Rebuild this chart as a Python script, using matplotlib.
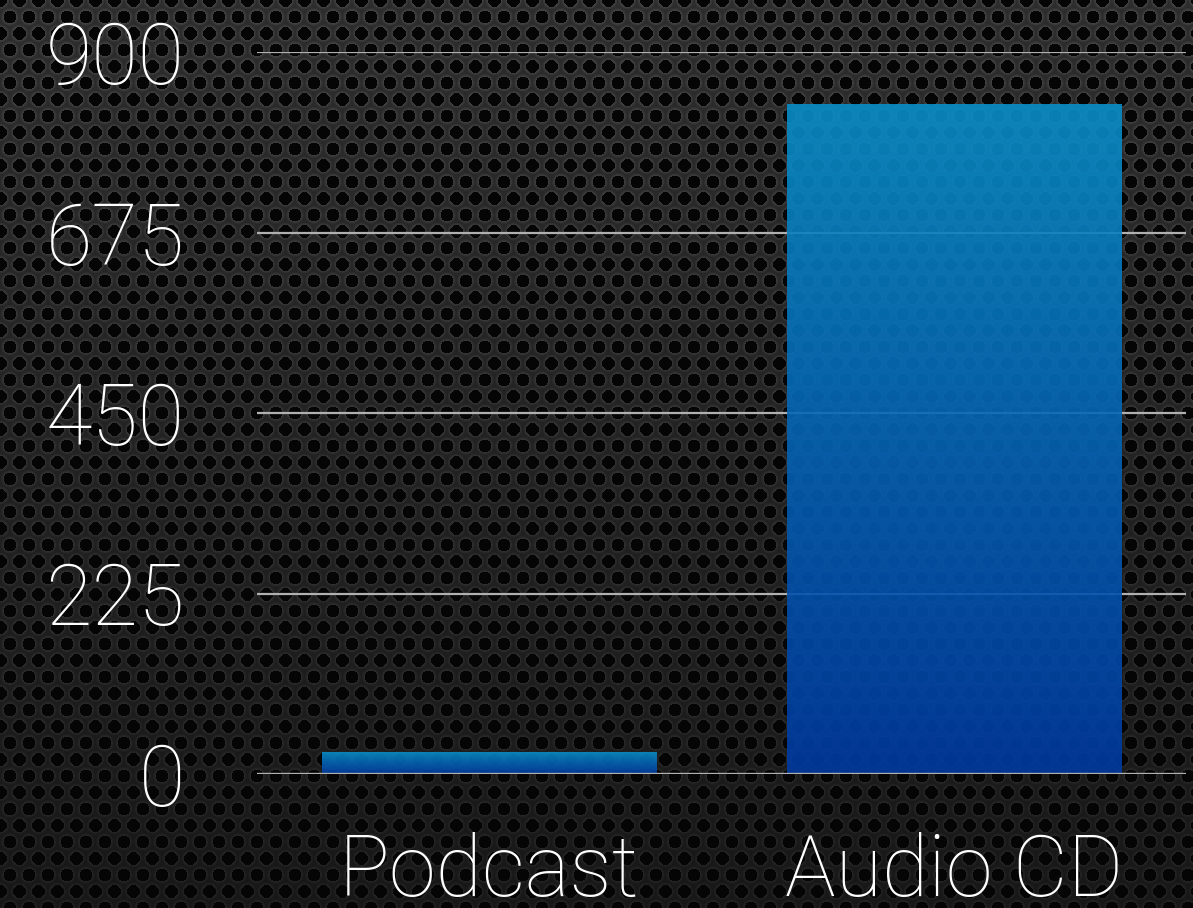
import numpy as np
import matplotlib.pyplot as plt
from matplotlib.colors import LinearSegmentedColormap

categories = ['Podcast', 'Audio CD']
values = [27, 835]
yticks = [0, 225, 450, 675, 900]

plt.rcParams['font.family'] = ['Roboto', 'DejaVu Sans']

W, H = 1193, 908
fig = plt.figure(figsize=(W / 100, H / 100), dpi=100)

# perforated metal background
yy, xx = np.mgrid[0:H, 0:W].astype(float)
dx, dy = 19.0, 16.5
row = np.round(yy / dy)
cx = xx - (row % 2) * dx / 2
col = np.round(cx / dx)
d = np.hypot(cx - col * dx, yy - row * dy)
for r_off in (-1, 1):
    r2 = row + r_off
    cx2 = xx - (r2 % 2) * dx / 2
    c2 = np.round(cx2 / dx)
    d = np.minimum(d, np.hypot(cx2 - c2 * dx, yy - r2 * dy))
shade = 0.27 - 0.13 * (yy / H)
tex = np.where(d < 6.4, 0.02, shade * (1 - 0.35 * np.clip((d - 6.4) / 3, 0, 1)))
tex = np.clip(tex, 0, 1)
bg = fig.add_axes([0, 0, 1, 1], zorder=-5)
bg.imshow(tex, cmap='gray', vmin=0, vmax=1, aspect='auto', interpolation='bilinear')
bg.axis('off')

ax = fig.add_axes([257 / W, 1 - 774 / H, (1186 - 257) / W, (774 - 52) / H])
ax.patch.set_alpha(0)
x = np.arange(len(categories))

for t in yticks:
    ax.axhline(t, color='#b0b0b0', lw=2.4 if t == 0 else 1.6, zorder=1 if t else 3)

cmap = LinearSegmentedColormap.from_list('bar', ['#003aa2', '#0a8fc8'])
bars = ax.bar(x, values, width=0.72, color='none', zorder=2)
for b in bars:
    x0, y0 = b.get_x(), b.get_y()
    grad = np.linspace(0, 1, 256).reshape(-1, 1)
    im = ax.imshow(grad, cmap=cmap, aspect='auto', origin='lower', alpha=0.9,
                   extent=[x0, x0 + b.get_width(), y0, y0 + b.get_height()], zorder=2)
    im.set_clip_path(b)
ax.set_xlim(-0.5, 1.5)
ax.set_ylim(0, 900)

for s in ax.spines.values():
    s.set_visible(False)
ax.set_yticks(yticks)
ax.set_yticklabels([str(t) for t in yticks])
ax.set_xticks(x)
ax.set_xticklabels(categories)
ax.tick_params(length=0, colors='white', labelsize=61)
ax.tick_params(axis='y', pad=52)
ax.tick_params(axis='x', pad=42)
for lab in ax.get_xticklabels() + ax.get_yticklabels():
    lab.set_fontweight('light')

fig.savefig('out.png', dpi=100)
